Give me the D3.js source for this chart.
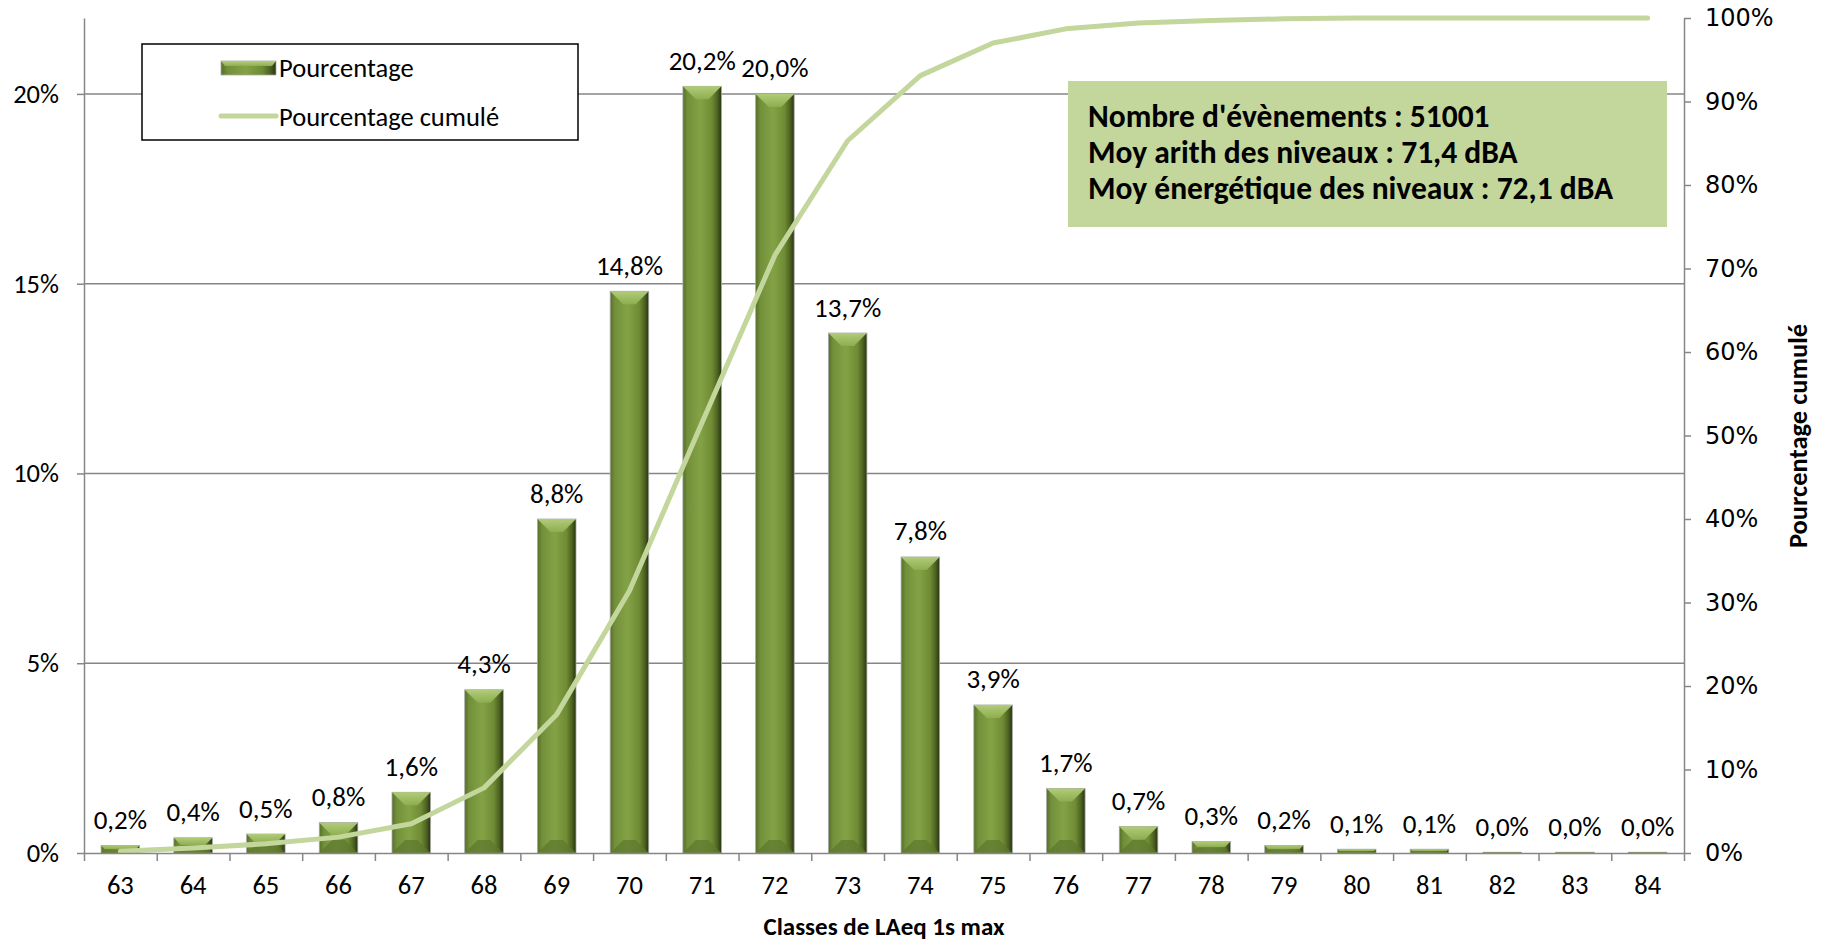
<!DOCTYPE html>
<html>
<head>
<meta charset="utf-8">
<script src="https://cdn.jsdelivr.net/npm/d3@7"></script>
<style>
  body { margin: 0; background: #fff; }
  svg { display: block; }
  text { font-family: Carlito, Calibri, Lato, sans-serif; fill: #000; }
</style>
</head>
<body>
<div id="chart"></div>
<script>
// ---------------------------------------------
// DATA
// ---------------------------------------------
const classes = [63, 64, 65, 66, 67, 68, 69, 70, 71, 72, 73, 74, 75, 76, 77, 78, 79, 80, 81, 82, 83, 84];
const pourcentage = [0.2, 0.4, 0.5, 0.8, 1.6, 4.3, 8.8, 14.8, 20.2, 20.0, 13.7, 7.8, 3.9, 1.7, 0.7, 0.3, 0.2, 0.1, 0.1, 0.02, 0.02, 0.02];
const cumule = [0.2, 0.6, 1.1, 1.9, 3.5, 7.8, 16.6, 31.4, 51.6, 71.6, 85.3, 93.1, 97.0, 98.7, 99.4, 99.7, 99.9, 100.0, 100.0, 100.0, 100.0, 100.0];
const leftTicks = [0, 5, 10, 15, 20];
const rightTicks = [0, 10, 20, 30, 40, 50, 60, 70, 80, 90, 100];
const infoLines = [
  "Nombre d'évènements : 51001",
  "Moy arith des niveaux : 71,4 dBA",
  "Moy énergétique des niveaux : 72,1 dBA"
];

// ---------------------------------------------
// SETUP
// ---------------------------------------------
const W = 1825, H = 943;
const plot = { left: 84, right: 1684, top: 18, bottom: 853 };
const axisColor = "#868686";
const lineColor = "#c3d69b";
const FONT = "Carlito, Calibri, Lato, sans-serif";

const svg = d3.select("#chart").append("svg")
  .attr("width", W).attr("height", H);

const x = d3.scaleBand()
  .domain(classes)
  .range([plot.left, plot.right])
  .paddingInner(0.47)
  .paddingOuter(0.235);

const xEdge = d3.scaleLinear()
  .domain([0, classes.length])
  .range([plot.left, plot.right]);

const yL = d3.scaleLinear().domain([0, 22]).range([plot.bottom, plot.top]);
const yR = d3.scaleLinear().domain([0, 100]).range([plot.bottom, plot.top]);

const fmtPct = v => d3.format(".1f")(v).replace(".", ",") + "%";

// gradient for bars
const defs = svg.append("defs");
const grad = defs.append("linearGradient").attr("id", "barGrad")
  .attr("x1", "0%").attr("x2", "100%").attr("y1", "0%").attr("y2", "0%");
[[0, "#566f29"], [0.12, "#72903a"], [0.45, "#84a245"], [0.75, "#6f8c35"], [0.9, "#4b6020"], [1, "#27330f"]]
  .forEach(([o, c]) => grad.append("stop").attr("offset", o).attr("stop-color", c));

const bevTop = defs.append("linearGradient").attr("id", "bevTop")
  .attr("x1", "0%").attr("x2", "0%").attr("y1", "0%").attr("y2", "100%");
bevTop.append("stop").attr("offset", 0).attr("stop-color", "#b3cf7c");
bevTop.append("stop").attr("offset", 1).attr("stop-color", "#8fae50");

// ---------------------------------------------
// GRIDLINES
// ---------------------------------------------
svg.append("g").selectAll("line")
  .data(leftTicks.filter(d => d > 0))
  .join("line")
  .attr("x1", plot.left).attr("x2", plot.right)
  .attr("y1", d => yL(d)).attr("y2", d => yL(d))
  .attr("stroke", axisColor).attr("stroke-width", 1.5);

// ---------------------------------------------
// BARS
// ---------------------------------------------
const bw = x.bandwidth();
const bars = svg.append("g").selectAll("g")
  .data(classes.map((c, i) => ({ c, v: pourcentage[i] })))
  .join("g")
  .attr("transform", d => `translate(${x(d.c)},0)`);

bars.append("rect")
  .attr("x", 0).attr("width", bw)
  .attr("y", d => yL(d.v))
  .attr("height", d => plot.bottom - yL(d.v))
  .attr("fill", "url(#barGrad)")
  .attr("stroke", "#a9a9a9").attr("stroke-width", 0.8);

// top bevel
bars.append("path")
  .attr("d", d => {
    const t = yL(d.v), h = plot.bottom - t;
    const b = Math.min(13, h / 2, bw / 2 - 4);
    return `M0,${t}L${bw},${t}L${bw - b},${t + b}L${b},${t + b}Z`;
  })
  .attr("fill", "url(#bevTop)").attr("opacity", 0.95);

// bottom bevel
bars.append("path")
  .attr("d", d => {
    const t = yL(d.v), h = plot.bottom - t;
    const b = Math.min(13, h / 2, bw / 2 - 4);
    const yb = plot.bottom;
    return `M0,${yb}L${bw},${yb}L${bw - b},${yb - b}L${b},${yb - b}Z`;
  })
  .attr("fill", "#5d782d").attr("opacity", 0.75);

// data labels
bars.append("text")
  .attr("x", bw / 2)
  .attr("y", d => yL(d.v) - 26)
  .attr("text-anchor", "middle")
  .attr("dominant-baseline", "central")
  .style("font-size", "27px")
  .text(d => fmtPct(d.v));

// ---------------------------------------------
// CUMULATIVE LINE
// ---------------------------------------------
const line = d3.line()
  .x((d, i) => x(classes[i]) + bw / 2)
  .y(d => yR(d));

svg.append("path")
  .datum(cumule)
  .attr("d", line)
  .attr("fill", "none")
  .attr("stroke", lineColor)
  .attr("stroke-width", 5)
  .attr("stroke-linejoin", "round")
  .attr("stroke-linecap", "round");

// ---------------------------------------------
// AXES
// ---------------------------------------------
const gL = svg.append("g")
  .attr("transform", `translate(${plot.left},0)`)
  .call(d3.axisLeft(yL).tickValues(leftTicks).tickFormat(d => d + "%")
    .tickSize(7).tickSizeOuter(0).tickPadding(18));

const gR = svg.append("g")
  .attr("transform", `translate(${plot.right},0)`)
  .call(d3.axisRight(yR).tickValues(rightTicks).tickFormat(d => d + "%")
    .tickSize(7).tickSizeOuter(0).tickPadding(14));

const gX = svg.append("g")
  .attr("transform", `translate(0,${plot.bottom})`)
  .call(d3.axisBottom(xEdge).tickValues(d3.range(classes.length + 1))
    .tickFormat("").tickSize(8).tickSizeOuter(0));

const gXL = svg.append("g")
  .attr("transform", `translate(0,${plot.bottom})`)
  .call(d3.axisBottom(x).tickSize(0).tickPadding(22));
gXL.select(".domain").remove();

[gL, gR, gX].forEach(g => {
  g.selectAll(".domain").attr("stroke", axisColor).attr("stroke-width", 1.5);
  g.selectAll(".tick line").attr("stroke", axisColor).attr("stroke-width", 1.5);
});
gL.selectAll("text").style("font-size", "26.5px").style("font-family", FONT).attr("fill", "#000");
gXL.selectAll("text").style("font-size", "26.5px").style("font-family", FONT).attr("fill", "#000");
gR.selectAll("text").style("font-size", "24px").style("font-family", "'DejaVu Sans', Verdana, sans-serif").attr("fill", "#000");

// axis titles
svg.append("text")
  .attr("x", (plot.left + plot.right) / 2).attr("y", 926)
  .attr("text-anchor", "middle").attr("dominant-baseline", "central")
  .style("font-size", "25px").style("font-weight", "bold")
  .text("Classes de LAeq 1s max");

svg.append("text")
  .attr("transform", "translate(1798,436) rotate(-90)")
  .attr("text-anchor", "middle").attr("dominant-baseline", "central")
  .style("font-size", "26.5px").style("font-weight", "bold")
  .text("Pourcentage cumulé");

// ---------------------------------------------
// LEGEND
// ---------------------------------------------
const lg = svg.append("g");
lg.append("rect")
  .attr("x", 142).attr("y", 44).attr("width", 436).attr("height", 96)
  .attr("fill", "#fff").attr("stroke", "#000").attr("stroke-width", 1.5);
lg.append("rect")
  .attr("x", 221).attr("y", 61).attr("width", 55).attr("height", 14)
  .attr("fill", "url(#barGrad)").attr("stroke", "#a9a9a9").attr("stroke-width", 0.8);
lg.append("path")
  .attr("d", "M221,61L276,61L272,66L225,66Z").attr("fill", "url(#bevTop)");
lg.append("text").attr("x", 279).attr("y", 68)
  .attr("dominant-baseline", "central").style("font-size", "26.5px").text("Pourcentage");
lg.append("line")
  .attr("x1", 221).attr("x2", 276).attr("y1", 116).attr("y2", 116)
  .attr("stroke", lineColor).attr("stroke-width", 5).attr("stroke-linecap", "round");
lg.append("text").attr("x", 279).attr("y", 117)
  .attr("dominant-baseline", "central").style("font-size", "26.5px").text("Pourcentage cumulé");

// ---------------------------------------------
// INFO BOX
// ---------------------------------------------
const ib = svg.append("g");
ib.append("rect")
  .attr("x", 1068).attr("y", 81).attr("width", 599).attr("height", 146)
  .attr("fill", lineColor);
ib.selectAll("text")
  .data(infoLines)
  .join("text")
  .attr("x", 1088).attr("y", (d, i) => 116 + i * 36)
  .attr("dominant-baseline", "central")
  .style("font-size", "31.5px").style("font-weight", "bold")
  .text(d => d);
</script>
</body>
</html>
